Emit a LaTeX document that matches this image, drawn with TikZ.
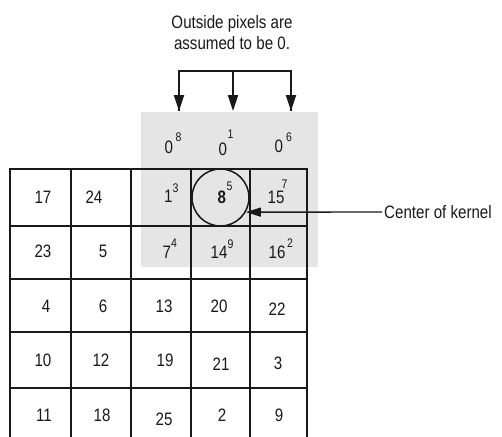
\documentclass[tikz,border=0pt]{standalone}
\usepackage{fontspec}
\setmainfont[FakeStretch=0.84]{Liberation Sans}
\usetikzlibrary{arrows.meta}

\definecolor{padgray}{RGB}{229,229,229}
\definecolor{ink}{RGB}{25,25,25}

% value with a raised kernel weight: base, kern, raise, weight
\newcommand\wnum[4]{#1\kern#2pt\raisebox{#3pt}{\fontsize{12.5}{12.5}\selectfont#4}}

\begin{document}
\begin{tikzpicture}[x=1pt,y=-1pt,
  num/.style={inner sep=0pt, text=ink, font=\fontsize{18}{18}\selectfont, anchor=base},
  wcell/.style={num, anchor=base west},
  gridline/.style={draw=ink, line width=1.9pt},
  arr/.style={draw=ink, line width=2pt, -{Triangle[length=16pt,width=10pt]}},
  label/.style={inner sep=2pt, text=ink, font=\fontsize{18}{21}\selectfont}]

\fill[white] (0,0) rectangle (502,436);
\useasboundingbox (0,0) rectangle (502,436);
\clip (0,0) rectangle (502,436);

% zero padding region around the top rows
\node[fill=padgray, minimum width=177pt, minimum height=155pt, inner sep=0pt] (pad) at (229.5,189.5) {};

% image grid
\foreach \x in {10,71,131,191,250,307}
  \draw[gridline] (\x,169) -- (\x,440);
\foreach \y in {169,226,279,332,388}
  \draw[gridline, line cap=rect] (10,\y) -- (307,\y);

% kernel centre marker
\node[draw=ink, line width=1.5pt, circle, minimum size=57pt, inner sep=0pt] (kernel) at (220.5,197.5) {};

% padded zeros
\node[wcell] (p1) at (164.5,153) {\wnum{0}{2.5}{12}{8}};
\node[wcell] (p2) at (218.5,155) {\wnum{0}{0.5}{17}{1}};
\node[wcell] (p3) at (274.5,152) {\wnum{0}{3}{11}{6}};

% row 1
\node[num] (r1c1) at (43,203) {17};
\node[num] (r1c2) at (94,203) {24};
\node[wcell] (r1c3) at (164,202) {\wnum{1}{0}{10}{3}};
\node[wcell] (r1c4) at (217.5,203) {\wnum{\textbf{8}}{0.5}{13}{5}};
\node[wcell] (r1c5) at (267.5,203) {\wnum{15}{-3}{15}{7}};

% row 2
\node[num] (r2c1) at (43,257) {23};
\node[num] (r2c2) at (103,257) {5};
\node[wcell] (r2c3) at (162.5,258) {\wnum{7}{0}{11}{4}};
\node[wcell] (r2c4) at (210.5,258) {\wnum{14}{0}{10}{9}};
\node[wcell] (r2c5) at (268.5,258) {\wnum{16}{1.5}{11}{2}};

% row 3
\node[num] (r3c1) at (46,312) {4};
\node[num] (r3c2) at (103,312) {6};
\node[num] (r3c3) at (164,312) {13};
\node[num] (r3c4) at (219,312) {20};
\node[num] (r3c5) at (277,315) {22};

% row 4
\node[num] (r4c1) at (43,366) {10};
\node[num] (r4c2) at (101,366) {12};
\node[num] (r4c3) at (165,366) {19};
\node[num] (r4c4) at (221,370) {21};
\node[num] (r4c5) at (278,369) {3};

% row 5
\node[num] (r5c1) at (44,421) {11};
\node[num] (r5c2) at (102,421) {18};
\node[num] (r5c3) at (164,425) {25};
\node[num] (r5c4) at (222,421) {2};
\node[num] (r5c5) at (279,421) {9};

% note about the padding, with its bracket of arrows
\node[label, align=center] (note) at (232,33) {Outside pixels are\\assumed to be 0.};
\coordinate (hl) at (179,71);
\coordinate (hm) at (233,71);
\coordinate (hr) at (291,71);
\coordinate (al) at (179,111);
\coordinate (am) at (233,111);
\coordinate (ar) at (291,111);
\draw[draw=ink, line width=2pt, line join=miter] (al) -- (hl) -- (hr) -- (ar);
\draw[arr] (hl) -- (al);
\draw[arr] (hm) -- (am);
\draw[arr] (hr) -- (ar);

% centre label
\node[label, anchor=west] (centre) at (382,212) {Center of kernel};
\draw[draw=ink, line width=1.4pt, -{Triangle[length=15pt,width=9pt]}] (centre.west) -- (kernel.-30);

\end{tikzpicture}
\end{document}
